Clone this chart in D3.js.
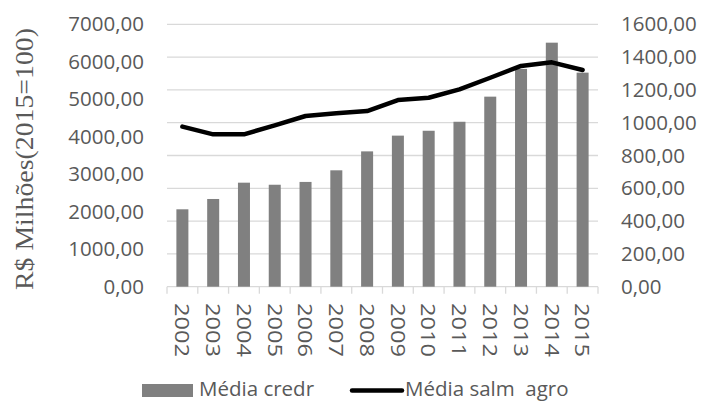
<!DOCTYPE html>
<html>
<head>
<meta charset="utf-8">
<script src="https://cdn.jsdelivr.net/npm/d3@7"></script>
<style>
  html, body { margin: 0; padding: 0; background: #fff; }
  svg { display: block; }
</style>
</head>
<body>
<svg id="chart" width="702" height="401"></svg>
<script>
// Anos e séries
const years = ["2002","2003","2004","2005","2006","2007","2008","2009","2010","2011","2012","2013","2014","2015"];
const mediaCredr = [2065, 2340, 2775, 2720, 2795, 3105, 3610, 4030, 4160, 4400, 5070, 5810, 6510, 5710];
const mediaSalmAgro = [976, 929, 929, 984, 1041, 1057, 1071, 1138, 1152, 1203, 1274, 1346, 1368, 1321];
const leftTicks = [0, 1000, 2000, 3000, 4000, 5000, 6000, 7000];
const rightTicks = [0, 200, 400, 600, 800, 1000, 1200, 1400, 1600];
const legendLabels = ["Média credr", "Média salm  agro"];

const svg = d3.select("#chart");
const plot = { left: 167, right: 598, top: 24.3, bottom: 286.7 };
const textColor = "#595959";
const gridColor = "#d9d9d9";
const barColor = "#808080";
const font = "'Open Sans', sans-serif";
const fmt = v => d3.format(".2f")(v).replace(".", ",");

const x = d3.scaleBand().domain(years).range([plot.left, plot.right]);
const yL = d3.scaleLinear().domain([0, 7000]).range([plot.bottom, plot.top]);
const yR = d3.scaleLinear().domain([0, 1600]).range([plot.bottom, plot.top]);

// Linhas de grade (eixo secundário)
svg.append("g").selectAll("line")
  .data(rightTicks)
  .join("line")
  .attr("x1", plot.left).attr("x2", plot.right)
  .attr("y1", d => yR(d)).attr("y2", d => yR(d))
  .attr("stroke", gridColor).attr("stroke-width", 1.3);

// Marcas do eixo das categorias, nas divisões entre anos
const bounds = years.map(y => x(y)).concat([x.range()[1]]);
svg.append("g").selectAll("line")
  .data(bounds)
  .join("line")
  .attr("x1", d => d).attr("x2", d => d)
  .attr("y1", plot.bottom).attr("y2", plot.bottom + 7)
  .attr("stroke", gridColor).attr("stroke-width", 1.3);

// Barras
const barW = x.bandwidth() * 0.39;
svg.append("g").selectAll("rect")
  .data(years.map((y, i) => ({ y, v: mediaCredr[i] })))
  .join("rect")
  .attr("x", d => x(d.y) + (x.bandwidth() - barW) / 2)
  .attr("width", barW)
  .attr("y", d => yL(d.v))
  .attr("height", d => yL(0) - yL(d.v))
  .attr("fill", barColor);

// Linha
const line = d3.line()
  .x((d, i) => x(years[i]) + x.bandwidth() / 2)
  .y(d => yR(d));
svg.append("path")
  .datum(mediaSalmAgro)
  .attr("d", line)
  .attr("fill", "none")
  .attr("stroke", "#000")
  .attr("stroke-width", 4.5)
  .attr("stroke-linejoin", "round")
  .attr("stroke-linecap", "round");

// Eixo esquerdo
const axL = svg.append("g")
  .attr("transform", `translate(${plot.left},0)`)
  .call(d3.axisLeft(yL).tickValues(leftTicks).tickFormat(fmt).tickSize(0).tickPadding(23));
axL.select(".domain").remove();
axL.selectAll("text")
  .attr("fill", textColor)
  .style("font-family", font)
  .style("font-size", "20.5px");

// Eixo direito
const axR = svg.append("g")
  .attr("transform", `translate(${plot.right},0)`)
  .call(d3.axisRight(yR).tickValues(rightTicks).tickFormat(fmt).tickSize(0).tickPadding(23));
axR.select(".domain").remove();
axR.selectAll("text")
  .attr("fill", textColor)
  .style("font-family", font)
  .style("font-size", "20.5px");

// Rótulos dos anos, girados
svg.append("g").selectAll("text")
  .data(years)
  .join("text")
  .attr("transform", d => `translate(${x(d) + x.bandwidth() / 2},303) rotate(90)`)
  .attr("dy", "0.35em")
  .attr("text-anchor", "start")
  .attr("textLength", 54)
  .attr("lengthAdjust", "spacingAndGlyphs")
  .attr("fill", textColor)
  .style("font-family", font)
  .style("font-size", "20.5px")
  .text(d => d);

// Título do eixo Y
svg.append("text")
  .attr("transform", "translate(33,159) rotate(-90)")
  .attr("text-anchor", "middle")
  .attr("textLength", 262)
  .attr("lengthAdjust", "spacingAndGlyphs")
  .attr("fill", textColor)
  .style("font-family", "'Liberation Serif', serif")
  .style("font-size", "25px")
  .text("R$ Milhões(2015=100)");

// Legenda
const leg = svg.append("g");
leg.append("rect")
  .attr("x", 142).attr("y", 384).attr("width", 51).attr("height", 13)
  .attr("fill", barColor);
leg.append("text")
  .attr("x", 199).attr("y", 396)
  .attr("fill", textColor)
  .style("font-family", font)
  .style("font-size", "20.5px")
  .text(legendLabels[0]);
leg.append("line")
  .attr("x1", 352).attr("x2", 402).attr("y1", 390.5).attr("y2", 390.5)
  .attr("stroke", "#000").attr("stroke-width", 4.5)
  .attr("stroke-linecap", "round");
leg.append("text")
  .attr("x", 405).attr("y", 396)
  .attr("fill", textColor)
  .style("font-family", font)
  .style("font-size", "20.5px")
  .style("white-space", "pre")
  .text(legendLabels[1]);
</script>
</body>
</html>
